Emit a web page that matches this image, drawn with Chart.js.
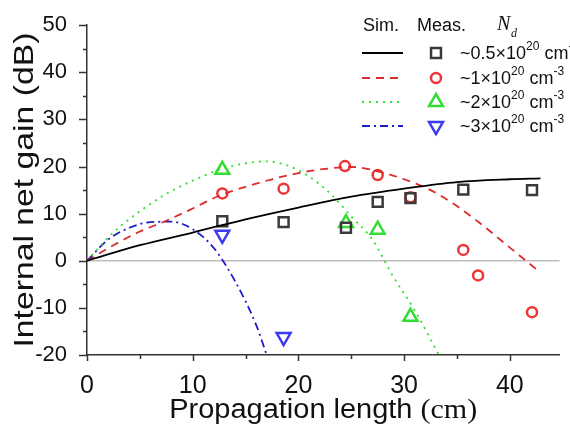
<!DOCTYPE html>
<html>
<head>
<meta charset="utf-8">
<script src="https://cdn.jsdelivr.net/npm/chart.js@4.4.0/dist/chart.umd.min.js"></script>
<style>
  html, body { margin: 0; padding: 0; background: #fff; }
  #wrap { width: 570px; height: 431px; }
</style>
</head>
<body>
<div id="wrap"><canvas id="chart" width="570" height="431"></canvas></div>
<script>
// Simulated curves (Sim.)
const simX05 = [0, 5, 10, 15, 20, 25, 30, 35, 40, 42.9];
const simY05 = [0, 3.3, 6.0, 8.8, 11.3, 13.6, 15.3, 16.7, 17.3, 17.5];
const simX1 = [0, 2.5, 5, 7.5, 10, 12.5, 15, 17.5, 20, 22.5, 25, 27.5, 30, 32.5, 35, 37.5, 40, 42.9];
const simY1 = [0, 3.3, 6.2, 8.5, 11.1, 13.8, 15.7, 17.3, 18.6, 19.5, 19.9, 19.0, 17.3, 15.0, 11.6, 7.4, 2.8, -2.5];
const simX2 = [0, 2.5, 5, 7.5, 10, 12.5, 15, 17, 19, 21, 23, 25, 27, 29, 31, 33.3];
const simY2 = [0, 6.0, 10.5, 14.2, 17.0, 19.3, 20.7, 21.1, 20.2, 17.9, 14.3, 9.4, 4.5, -3.5, -10.5, -20];
const simX3 = [0, 2, 4, 6, 8, 10, 12, 14, 16, 17];
const simY3 = [0, 4.5, 7.0, 8.2, 8.3, 6.7, 2.7, -4.3, -13.6, -20];

// Measured points (Meas.)
const measX05 = [12.8, 18.6, 24.5, 27.5, 30.6, 35.6, 42.1];
const measY05 = [8.4, 8.2, 7.0, 12.5, 13.3, 15.1, 15.0];
const measX1 = [12.8, 18.6, 24.4, 27.5, 30.6, 35.6, 37.0, 42.1];
const measY1 = [14.3, 15.3, 20.1, 18.2, 13.5, 2.3, -3.1, -10.9];
const measX2 = [12.8, 24.5, 27.5, 30.6];
const measY2 = [19.3, 8.0, 6.6, -11.9];
const measX3 = [12.8, 18.6];
const measY3 = [5.5, -16.2];

const xTicks = [0, 5, 10, 15, 20, 25, 30, 35, 40];
const yTicks = [-20, -15, -10, -5, 0, 5, 10, 15, 20, 25, 30, 35, 40, 45, 50];
const legendLabels = ['~0.5\u00d710', '~1\u00d710', '~2\u00d710', '~3\u00d710'];

const SANS = '"Liberation Sans", Arial, sans-serif';
const SERIF = '"Liberation Serif", "Times New Roman", serif';

const series = [
    { line: '#000000', mark: '#3a3a3a', dash: [], style: 'rect', radius: 7, rot: 0 },
    { line: '#dd2a2a', mark: '#ee3535', dash: [8, 6], style: 'circle', radius: 5, rot: 0 },
    { line: '#33dd33', mark: '#33dd33', dash: [2, 5], style: 'triangle', radius: 8, rot: 0 },
    { line: '#1c1cc8', mark: '#3a3af0', dash: [8, 4, 2, 4], style: 'triangle', radius: 8, rot: 180 }
];

const toPts = (xs, ys) => xs.map((x, i) => ({ x: x, y: ys[i] }));
const simData = [toPts(simX05, simY05), toPts(simX1, simY1), toPts(simX2, simY2), toPts(simX3, simY3)];
const measData = [toPts(measX05, measY05), toPts(measX1, measY1), toPts(measX2, measY2), toPts(measX3, measY3)];

const datasets = [];
series.forEach((s, i) => {
    datasets.push({
        type: 'line',
        data: simData[i],
        borderColor: s.line,
        borderWidth: 1.8,
        borderDash: s.dash,
        pointRadius: 0,
        fill: false,
        cubicInterpolationMode: 'monotone'
    });
});
series.forEach((s, i) => {
    datasets.push({
        type: 'scatter',
        data: measData[i],
        borderColor: s.mark,
        backgroundColor: 'rgba(0,0,0,0)',
        borderWidth: 2.5,
        pointStyle: s.style,
        pointRadius: s.radius,
        rotation: s.rot
    });
});

// draws a string with superscript parts: parts = [[text, isSup], ...]
function drawRich(ctx, parts, x, y) {
    parts.forEach(([txt, sup]) => {
        ctx.font = sup ? '12px ' + SANS : '18px ' + SANS;
        ctx.fillText(txt, x, sup ? y - 7 : y);
        x += ctx.measureText(txt).width;
    });
}

const decor = {
    id: 'decor',
    beforeDatasetsDraw(chart) {
        const { ctx, chartArea, scales } = chart;
        const y0 = scales.y.getPixelForValue(0);
        ctx.save();
        ctx.strokeStyle = '#bdbdbd';
        ctx.lineWidth = 1.5;
        ctx.beginPath();
        ctx.moveTo(chartArea.left, y0);
        ctx.lineTo(chartArea.right, y0);
        ctx.stroke();
        ctx.restore();
    },
    afterDraw(chart) {
        const { ctx, chartArea, scales } = chart;
        ctx.save();
        ctx.strokeStyle = '#333';
        ctx.lineWidth = 1.5;
        // axis ticks, major outward longer
        yTicks.forEach(v => {
            const py = Math.round(scales.y.getPixelForValue(v)) + 0.5;
            const len = v % 10 === 0 ? 8 : 4;
            ctx.beginPath();
            ctx.moveTo(chartArea.left - len, py);
            ctx.lineTo(chartArea.left, py);
            ctx.stroke();
        });
        xTicks.forEach(v => {
            const px = Math.round(scales.x.getPixelForValue(v)) + 0.5;
            const len = v % 10 === 0 ? 6 : 4;
            ctx.beginPath();
            ctx.moveTo(px, chartArea.bottom);
            ctx.lineTo(px, chartArea.bottom + len);
            ctx.stroke();
        });

        // axis titles (stretched along the text direction like the original figure)
        ctx.fillStyle = '#111';
        ctx.textBaseline = 'alphabetic';
        ctx.textAlign = 'left';
        const t1 = 'Propagation length ', t2 = '(cm)';
        ctx.font = '27px ' + SANS;
        const w1 = ctx.measureText(t1).width;
        ctx.font = '28px ' + SERIF;
        const w2 = ctx.measureText(t2).width;
        const k = 308 / (w1 + w2);
        const cx = (chartArea.left + chartArea.right) / 2;
        ctx.save();
        ctx.translate(cx - 154, 418);
        ctx.scale(k, 1);
        ctx.font = '27px ' + SANS;
        ctx.fillText(t1, 0, 0);
        ctx.font = '28px ' + SERIF;
        ctx.fillText(t2, w1, 0);
        ctx.restore();

        ctx.save();
        ctx.translate(33, (chartArea.top + chartArea.bottom) / 2);
        ctx.rotate(-Math.PI / 2);
        ctx.font = '28px ' + SANS;
        const yt = 'Internal net gain (dB)';
        const ky = 315 / ctx.measureText(yt).width;
        ctx.scale(ky, 1);
        ctx.textAlign = 'center';
        ctx.fillText(yt, 0, 0);
        ctx.restore();

        // legend
        ctx.textBaseline = 'middle';
        ctx.font = '18px ' + SANS;
        ctx.fillText('Sim.', 363, 26);
        ctx.fillText('Meas.', 417, 26);
        ctx.font = 'italic 20px ' + SERIF;
        ctx.fillText('N', 497, 25);
        ctx.font = 'italic 12px ' + SERIF;
        ctx.fillText('d', 511, 34);

        const rows = [53, 78, 102, 126];
        series.forEach((s, i) => {
            const ry = rows[i];
            ctx.save();
            ctx.strokeStyle = s.line;
            ctx.lineWidth = 1.8;
            ctx.setLineDash(s.dash);
            ctx.beginPath();
            ctx.moveTo(362, ry);
            ctx.lineTo(403, ry);
            ctx.stroke();
            ctx.restore();

            ctx.save();
            ctx.strokeStyle = s.mark;
            ctx.fillStyle = 'rgba(0,0,0,0)';
            ctx.lineWidth = 2.5;
            Chart.helpers.drawPoint(ctx, {
                pointStyle: s.style, radius: s.radius, rotation: s.rot, borderWidth: 2.5
            }, 436, ry);
            ctx.restore();

            ctx.fillStyle = '#111';
            drawRich(ctx, [[legendLabels[i], false], ['20', true], [' cm', false], ['-3', true]], 460, ry + 1);
        });
        ctx.restore();
    }
};

new Chart(document.getElementById('chart'), {
    type: 'scatter',
    data: { datasets: datasets },
    options: {
        responsive: false,
        animation: false,
        layout: { padding: { top: 14, right: 0, left: 0, bottom: 0 } },
        plugins: { legend: { display: false }, tooltip: { enabled: false } },
        scales: {
            x: {
                type: 'linear',
                min: 0,
                max: 44.7,
                afterBuildTicks: scale => { scale.ticks = xTicks.map(v => ({ value: v })); },
                afterFit: scale => { scale.height = 76; },
                grid: { display: false },
                border: { display: true, color: '#333', width: 1.5 },
                ticks: {
                    padding: 8,
                    color: '#111',
                    font: { family: SANS, size: 25 },
                    maxRotation: 0,
                    callback: v => (v % 10 === 0 ? v : '')
                }
            },
            y: {
                type: 'linear',
                min: -20,
                max: 50,
                afterBuildTicks: scale => { scale.ticks = yTicks.map(v => ({ value: v })); },
                afterFit: scale => { scale.width = 87; },
                grid: { display: false },
                border: { display: true, color: '#333', width: 1.5 },
                ticks: {
                    padding: 12,
                    color: '#111',
                    font: { family: SANS, size: 22 },
                    callback: v => (v % 10 === 0 ? v : '')
                }
            }
        }
    },
    plugins: [decor]
});
</script>
</body>
</html>
